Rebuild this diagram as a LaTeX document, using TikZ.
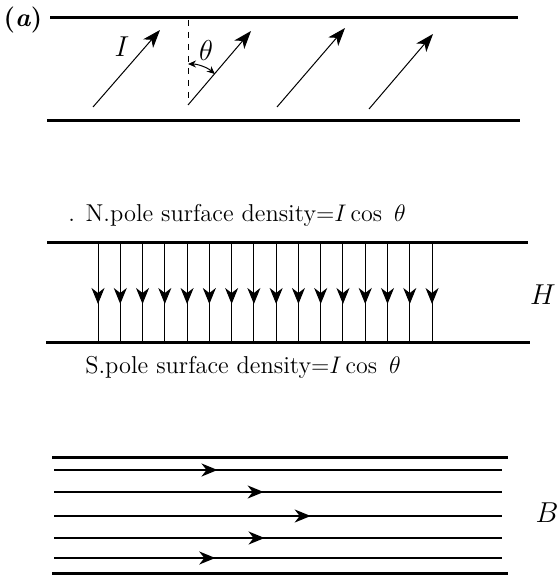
\documentclass[tikz,border=0pt]{standalone}
\usepackage{amsmath}
\usetikzlibrary{arrows.meta,decorations.markings}
\tikzset{
  plate/.style={line width=1.5pt},
  thinline/.style={line width=0.5pt},
  flowline/.style={line width=0.9pt},
  midhead/.style={postaction={decorate},decoration={markings,
      mark=at position #1 with {\arrow{Stealth[length=8pt,width=6.5pt,inset=2.5pt]}}}},
  lbl/.style={font=\fontsize{12.2}{15}\selectfont},
  symb/.style={font=\fontsize{14}{16}\selectfont}
}
\begin{document}
\begin{tikzpicture}[x=0.5pt,y=-0.5pt,>={Stealth[length=9pt,width=6.5pt,inset=2.5pt]}]
  \useasboundingbox (0,0) rectangle (559,577);
  % (a) the magnetised slab
  \node[font=\bfseries\fontsize{13}{15}\selectfont] (tag) at (23,20) {(\textit{a})};
  \draw[plate] (50,18) -- (518,18);
  \draw[plate] (47,121) -- (520,121);
  \foreach \i/\xa/\ya/\xb/\yb in {1/93/107/160/30, 2/188/105/251/31,
      3/277/107/345/28, 4/369/109/433/34}{
    \coordinate (m\i) at (\xa,\ya);
    \coordinate (t\i) at (\xb,\yb);
    \draw[thinline,->] (m\i) -- (t\i);
  }
  \coordinate (vtop) at (188,20);
  \draw[thinline,dashed] (vtop) -- (m2);
  \draw[thinline,<->,>={Stealth[length=4pt,width=3.5pt]}]
    ([shift={(-90:41)}]m2) arc (-90:-49:41);
  \node[symb] (I) at (122,47) {$I$};
  \node[symb] (th) at (206,51) {$\theta$};

  % H field between the pole surfaces
  \node[lbl] (npole) at (237,215) {. N.pole surface density${=}I\cos\ \theta$};
  \draw[plate] (47,242) -- (528,242);
  \draw[plate] (46,342) -- (530,342);
  \foreach \k in {0,...,15}{
    \draw[thinline,midhead=0.62] (98+22.27*\k,242) -- (98+22.27*\k,342);
  }
  \node[symb] (H) at (543,295) {$H$};
  \node[lbl] (spole) at (243,367) {S.pole surface density${=}I\cos\ \theta$};

  % B lines
  \draw[plate] (52,457) -- (508,457);
  \draw[plate] (52,573) -- (508,573);
  \foreach \yy/\pos in {470/0.365, 492/0.468, 516/0.573, 538/0.47, 558/0.36}{
    \draw[flowline,midhead=\pos] (54,\yy) -- (502,\yy);
  }
  \node[symb] (B) at (547,513) {$B$};
\end{tikzpicture}
\end{document}
